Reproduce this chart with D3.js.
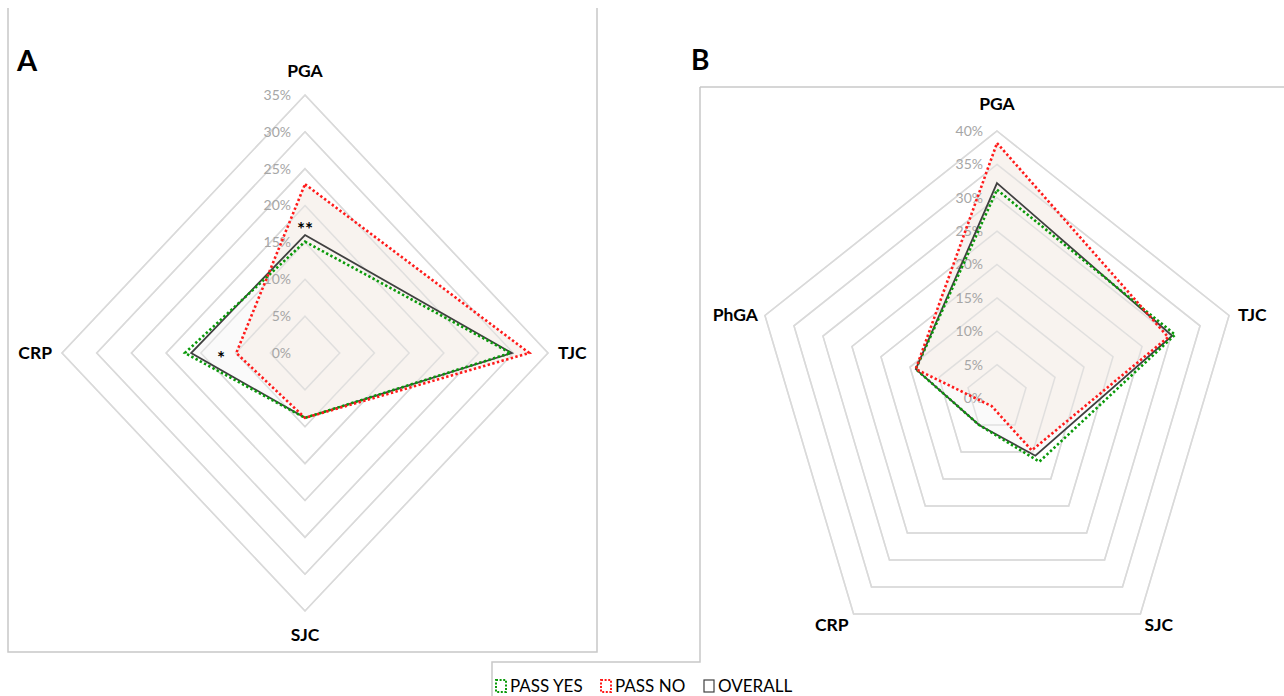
<!DOCTYPE html>
<html>
<head>
<meta charset="utf-8">
<script src="https://cdn.jsdelivr.net/npm/d3@7"></script>
<style>
  body { margin: 0; background: #fff; }
  svg { display: block; font-family: Lato, "Open Sans", sans-serif; }
</style>
</head>
<body>
<script>
// values, in percent
const axesA = ["PGA", "TJC", "SJC", "CRP"];
const ticksA = [0, 5, 10, 15, 20, 25, 30, 35];
const passYesA = [15.1, 29.6, 8.8, 17.3];
const passNoA = [22.9, 32.3, 8.8, 9.9];
const overallA = [16.0, 29.8, 8.8, 16.4];

const axesB = ["PGA", "TJC", "SJC", "CRP", "PhGA"];
const ticksB = [0, 5, 10, 15, 20, 25, 30, 35, 40];
const passYesB = [31.2, 30.7, 11.8, 5.0, 14.0];
const passNoB = [38.2, 29.5, 9.7, 1.5, 14.0];
const overallB = [32.2, 30.2, 10.7, 5.0, 14.0];

const legendNames = ["PASS YES", "PASS NO", "OVERALL"];

var width = 1284, height = 696;
var gridColor = "#d9d9d9", frameColor = "#c8c8c8";
var colors = {yes: "#0a9a0a", no: "#ff1a1a", all: "#404040"};

const svg = d3.select("body")
    .append("svg")
    .attr("width", width)
    .attr("height", height)
    .attr("viewBox", [0, 0, width, height]);

// frames around the panels
var frames = [
    [[8, 8], [8, 652], [597, 652], [597, 8]],
    [[700, 87], [1284, 87]],
    [[700, 87], [700, 662], [492, 662], [492, 696]]
];
frames.forEach(f => {
    svg.append("path")
        .attr("d", d3.line()(f))
        .attr("fill", "none")
        .attr("stroke", frameColor)
        .attr("stroke-width", 1.5);
});

function drawRadar(cfg) {
    var n = cfg.axes.length;
    var max = d3.max(cfg.ticks);
    var rx = d3.scaleLinear().domain([0, max]).range([0, cfg.rx]);
    var ry = d3.scaleLinear().domain([0, max]).range([0, cfg.ry]);
    var ang = d3.scaleLinear().domain([0, n]).range([0, 2 * Math.PI]);
    var pt = (i, v) => [cfg.cx + rx(v) * Math.sin(ang(i)), cfg.cy - ry(v) * Math.cos(ang(i))];
    var poly = d3.line().curve(d3.curveLinearClosed);
    var g = svg.append("g");

    // grid rings
    g.selectAll(".ring")
        .data(cfg.ticks.filter(t => t > 0))
        .join("path")
        .attr("d", t => poly(d3.range(n).map(i => pt(i, t))))
        .attr("fill", "none")
        .attr("stroke", gridColor)
        .attr("stroke-width", 1.5);

    // fills
    g.append("path")
        .attr("d", poly(cfg.overall.map((v, i) => pt(i, v))))
        .attr("fill", "#fafafa");
    g.append("path")
        .attr("d", poly(cfg.passNo.map((v, i) => pt(i, v))))
        .attr("fill", "#f8f3ef");

    // grid again over the fills
    g.selectAll(".ring2")
        .data(cfg.ticks.filter(t => t > 0))
        .join("path")
        .attr("d", t => poly(d3.range(n).map(i => pt(i, t))))
        .attr("fill", "none")
        .attr("stroke", gridColor)
        .attr("stroke-opacity", 0.8)
        .attr("stroke-width", 1.5);

    // tick labels
    g.selectAll(".tick")
        .data(cfg.ticks)
        .join("text")
        .attr("x", cfg.cx - 14)
        .attr("y", t => cfg.cy - ry(t))
        .attr("dy", "0.35em")
        .attr("text-anchor", "end")
        .attr("font-size", 14)
        .attr("fill", "#a6a6a6")
        .text(t => t + "%");

    // series lines
    g.append("path")
        .attr("d", poly(cfg.overall.map((v, i) => pt(i, v))))
        .attr("fill", "none")
        .attr("stroke", colors.all)
        .attr("stroke-width", 1.8);
    g.append("path")
        .attr("d", poly(cfg.passYes.map((v, i) => pt(i, v))))
        .attr("fill", "none")
        .attr("stroke", colors.yes)
        .attr("stroke-width", 2.6)
        .attr("stroke-dasharray", "2.4,2.4");
    g.append("path")
        .attr("d", poly(cfg.passNo.map((v, i) => pt(i, v))))
        .attr("fill", "none")
        .attr("stroke", colors.no)
        .attr("stroke-width", 2.6)
        .attr("stroke-dasharray", "2.4,2.4");

    // axis labels
    g.selectAll(".lab")
        .data(cfg.axes)
        .join("text")
        .attr("x", (d, i) => pt(i, max)[0] + cfg.labOff[i][0])
        .attr("y", (d, i) => pt(i, max)[1] + cfg.labOff[i][1])
        .attr("dy", "0.35em")
        .attr("text-anchor", (d, i) => cfg.labAnchor[i])
        .attr("font-size", 17.5)
        .attr("font-weight", "bold")
        .attr("fill", "#000")
        .text(d => d);

    return pt;
}

var ptA = drawRadar({
    axes: axesA, ticks: ticksA, passYes: passYesA, passNo: passNoA, overall: overallA,
    cx: 305, cy: 353, rx: 243, ry: 258,
    labOff: [[0, -24], [10, 0], [0, 24], [-10, 0]],
    labAnchor: ["middle", "start", "middle", "end"]
});

var ptB = drawRadar({
    axes: axesB, ticks: ticksB, passYes: passYesB, passNo: passNoB, overall: overallB,
    cx: 997, cy: 398, rx: 244, ry: 267,
    labOff: [[0, -27], [9, -1], [4, 11], [-5, 11], [-7, -1]],
    labAnchor: ["middle", "start", "start", "end", "end"]
});

// significance marks in panel A
var stars = [{axis: 0, value: 17.6, text: "**"}, {axis: 3, value: 12.1, text: "*"}];
svg.selectAll(".star")
    .data(stars)
    .join("text")
    .attr("x", d => ptA(d.axis, d.value)[0])
    .attr("y", d => ptA(d.axis, d.value)[1])
    .attr("dy", "0.65em")
    .attr("text-anchor", "middle")
    .attr("font-size", 19)
    .attr("font-weight", "bold")
    .text(d => d.text);

// panel letters
svg.append("text").attr("x", 17).attr("y", 71)
    .attr("font-size", 29).attr("font-weight", "bold").text("A");
svg.append("text").attr("x", 691).attr("y", 70)
    .attr("font-size", 28).attr("font-weight", "bold").text("B");

// legend
var legX = [496, 601, 704];
var legStyle = [
    {stroke: colors.yes, dash: "2,1.6", w: 2},
    {stroke: colors.no, dash: "2,1.6", w: 2},
    {stroke: "#404040", dash: null, w: 1.2}
];
var leg = svg.append("g");
legendNames.forEach((name, i) => {
    leg.append("rect")
        .attr("x", legX[i])
        .attr("y", 680)
        .attr("width", 10)
        .attr("height", 12)
        .attr("fill", "#fff")
        .attr("stroke", legStyle[i].stroke)
        .attr("stroke-width", legStyle[i].w)
        .attr("stroke-dasharray", legStyle[i].dash);
    leg.append("text")
        .attr("x", legX[i] + 14)
        .attr("y", 686)
        .attr("dy", "0.35em")
        .attr("font-size", 17)
        .attr("fill", "#000")
        .text(name);
});
</script>
</body>
</html>
